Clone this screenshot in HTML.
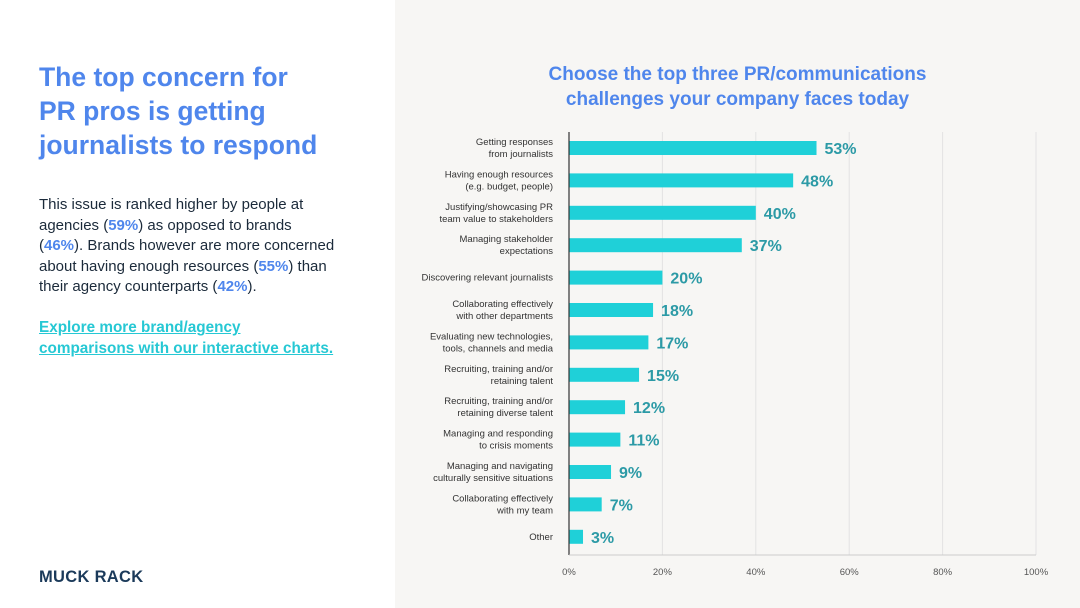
<!DOCTYPE html>
<html><head><meta charset="utf-8"><style>
body{margin:0;width:1080px;height:608px;overflow:hidden;font-family:"Liberation Sans","Noto Sans CJK SC",sans-serif;background:#fff;position:relative}
#left{position:absolute;left:0;top:0;width:395px;height:608px;background:#fff}
#right{position:absolute;left:395px;top:0;width:685px;height:608px;background:#f7f6f4}
h1{position:absolute;left:39px;top:60px;margin:0;font-size:26.5px;line-height:34px;color:#4f86ec;font-weight:bold;letter-spacing:0px}
#body{position:absolute;left:39px;top:195px;white-space:nowrap;font-size:15px;line-height:20.5px;color:#1b2a3a}
#body b{color:#4f86ec}
#link{position:absolute;left:39px;top:317px;font-size:15.3px;line-height:21px;color:#26c8d4;font-weight:bold;text-decoration:underline}
#logo{position:absolute;left:39px;top:568px;font-size:16.5px;font-weight:bold;color:#1b3a5a;letter-spacing:0.3px}
#title{position:absolute;left:395px;width:685px;top:62px;text-align:center;font-size:19px;line-height:25px;color:#4f86ec;font-weight:bold}
</style></head><body>
<div id="left"></div>
<div id="right"></div>
<h1>The top concern for<br>PR pros is getting<br>journalists to respond</h1>
<div id="body">This issue is ranked higher by people at<br>agencies (<b>59%</b>) as opposed to brands<br>(<b>46%</b>). Brands however are more concerned<br>about having enough resources (<b>55%</b>) than<br>their agency counterparts (<b>42%</b>).</div>
<div id="link">Explore more brand/agency<br>comparisons with our interactive charts.</div>
<div id="logo">MUCK RACK</div>
<div id="title">Choose the top three PR/communications<br>challenges your company faces today</div>
<svg id="chart" width="1080" height="608" style="position:absolute;left:0;top:0"></svg>
<script>
const categories=[["Getting responses","from journalists"],["Having enough resources","(e.g. budget, people)"],["Justifying/showcasing PR","team value to stakeholders"],["Managing stakeholder","expectations"],["Discovering relevant journalists"],["Collaborating effectively","with other departments"],["Evaluating new technologies,","tools, channels and media"],["Recruiting, training and/or","retaining talent"],["Recruiting, training and/or","retaining diverse talent"],["Managing and responding","to crisis moments"],["Managing and navigating","culturally sensitive situations"],["Collaborating effectively","with my team"],["Other"]];
const values=[53,48,40,37,20,18,17,15,12,11,9,7,3];
const ticks=[0,20,40,60,80,100];
const NS="http://www.w3.org/2000/svg";
const svg=document.getElementById('chart');
const x0=569,x1=1036,yTop=132,yBot=555,row0=148,step=32.4;
const xs=v=>x0+(x1-x0)*v/100;
const ys=i=>row0+i*step;
function mk(t,a){const e=document.createElementNS(NS,t);for(const k in a)e.setAttribute(k,a[k]);svg.appendChild(e);return e;}
ticks.forEach((t,i)=>{
 if(t>0){const g=mk('line',{x1:xs(t),x2:xs(t),y1:yTop,y2:yBot,stroke:'#e3e3e3','stroke-width':1});
 
 }
 const l=mk('text',{x:xs(t),y:575,'text-anchor':'middle','font-size':9.5,fill:'#555','font-family':'Liberation Sans'});
 l.textContent=t+'%';
 
 
});
values.forEach((v,i)=>{
 const y=ys(i);
 const b=mk('rect',{x:x0,y:y-7,width:xs(v)-x0,height:14,fill:'#1fd0d8'});
 
 
 const t=mk('text',{x:xs(v)+8,y:y+6,'font-size':16,'font-weight':'bold',fill:'#2c9aa6','font-family':'Liberation Sans'});
 t.textContent=v+'%';
 
 
 const c=categories[i];
 c.forEach((s,j)=>{
  const ty=c.length==1?y+3:y-3+j*12;
  const lt=mk('text',{x:553,y:ty,'text-anchor':'end','font-size':9.5,fill:'#333','font-family':'Liberation Sans'});
  lt.textContent=s;
  
  
 });
});
const ax=mk('line',{x1:x0,x2:x0,y1:yTop,y2:yBot,stroke:'#333','stroke-width':1.2});


const bx=mk('line',{x1:x0,x2:x1,y1:yBot,y2:yBot,stroke:'#ccc','stroke-width':1});


</script>
</body></html>
